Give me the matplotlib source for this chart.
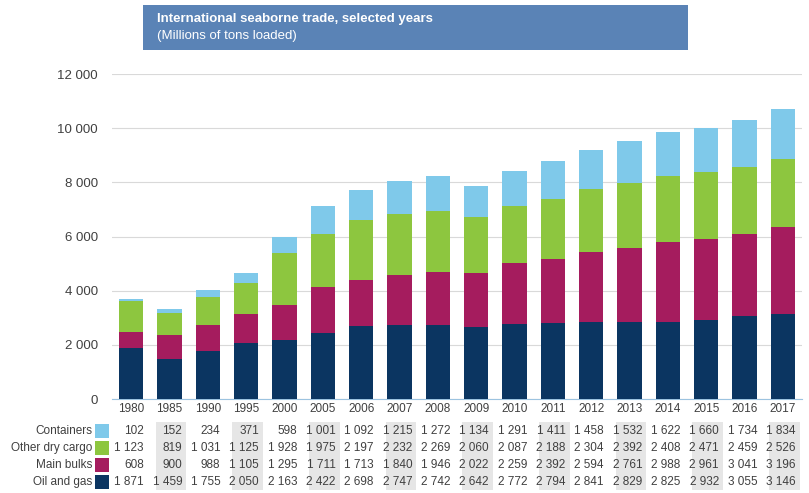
import matplotlib
matplotlib.use("Agg")
import matplotlib.pyplot as plt
from matplotlib.patches import Rectangle
import numpy as np

years = ["1980", "1985", "1990", "1995", "2000", "2005", "2006", "2007", "2008",
         "2009", "2010", "2011", "2012", "2013", "2014", "2015", "2016", "2017"]
oil_gas = [1871, 1459, 1755, 2050, 2163, 2422, 2698, 2747, 2742,
           2642, 2772, 2794, 2841, 2829, 2825, 2932, 3055, 3146]
main_bulks = [608, 900, 988, 1105, 1295, 1711, 1713, 1840, 1946,
              2022, 2259, 2392, 2594, 2761, 2988, 2961, 3041, 3196]
other_dry = [1123, 819, 1031, 1125, 1928, 1975, 2197, 2232, 2269,
             2060, 2087, 2188, 2304, 2392, 2408, 2471, 2459, 2526]
containers = [102, 152, 234, 371, 598, 1001, 1092, 1215, 1272,
              1134, 1291, 1411, 1458, 1532, 1622, 1660, 1734, 1834]

series_names = ["Containers", "Other dry cargo", "Main bulks", "Oil and gas"]
series_values = [containers, other_dry, main_bulks, oil_gas]
series_colors = ["#7fc9ea", "#8dc63f", "#a51c5e", "#0b3561"]

plt.rcParams['font.family'] = ['Liberation Sans', 'DejaVu Sans']
txt_col = "#404040"

W, H = 809, 493
fig = plt.figure(figsize=(W / 100, H / 100), dpi=100)

# axes in pixel coords: left 112, right 802, top 74, bottom 399
ax_l, ax_r, ax_t, ax_b = 112, 802, 74, 399
ax = fig.add_axes([ax_l / W, 1 - ax_b / H, (ax_r - ax_l) / W, (ax_b - ax_t) / H])

x = np.arange(len(years))
bottom = np.zeros(len(years))
# stack from bottom: oil and gas, main bulks, other dry cargo, containers
for name, vals, col in zip(series_names[::-1], series_values[::-1], series_colors[::-1]):
    ax.bar(x, vals, width=0.63, bottom=bottom, color=col, zorder=3)
    bottom += np.array(vals)

ax.set_xlim(-0.5, 17.5)
ax.set_ylim(0, 12000)
ax.set_yticks(range(0, 12001, 2000))
ax.set_yticklabels([f"{v:,}".replace(",", " ") for v in range(0, 12001, 2000)],
                   fontsize=9.5, color=txt_col)
ax.yaxis.grid(True, color="#d9d9d9", linewidth=0.8, zorder=0)
ax.tick_params(axis="y", length=0, pad=10)
ax.set_xticks(x)
ax.set_xticklabels(years, fontsize=8.5, color=txt_col)
ax.tick_params(axis="x", length=0, pad=3)
for s in ["top", "right", "left"]:
    ax.spines[s].set_visible(False)
ax.spines["bottom"].set_color("#9cc3e0")
ax.spines["bottom"].set_linewidth(0.8)

# data table below the chart
trans = ax.get_xaxis_transform()
def yfrac(py):
    return (ax_b - py) / (ax_b - ax_t)

row_y = [431, 448, 465, 482]
for i in range(1, len(years), 2):
    ax.add_patch(Rectangle((i - 0.36, yfrac(490)), 0.8, yfrac(422) - yfrac(490),
                           transform=trans, facecolor="#e6e6e6", edgecolor="none",
                           clip_on=False, zorder=1))
for name, vals, col, py in zip(series_names, series_values, series_colors, row_y):
    yy = yfrac(py)
    for xi, v in zip(x, vals):
        ax.text(xi + 0.33, yy, f"{v:,}".replace(",", " "), transform=trans,
                ha="right", va="center", fontsize=8.5, color=txt_col, clip_on=False, zorder=2)
    fig.text(92 / W, 1 - py / H, name, ha="right", va="center", fontsize=8.5, color=txt_col)
    fig.patches.append(Rectangle((95 / W, 1 - (py + 7) / H), 14 / W, 14 / H,
                                 transform=fig.transFigure, facecolor=col, edgecolor="none"))

# title box
fig.patches.append(Rectangle((143 / W, 1 - 50 / H), (688 - 143) / W, 45 / H,
                             transform=fig.transFigure, facecolor="#5a83b6", edgecolor="none"))
fig.text(157 / W, 1 - 19 / H, "International seaborne trade, selected years",
         ha="left", va="center", fontsize=9.5, fontweight="bold", color="white")
fig.text(157 / W, 1 - 36 / H, "(Millions of tons loaded)",
         ha="left", va="center", fontsize=9.5, color="white")

fig.savefig("out.png", dpi=100)
